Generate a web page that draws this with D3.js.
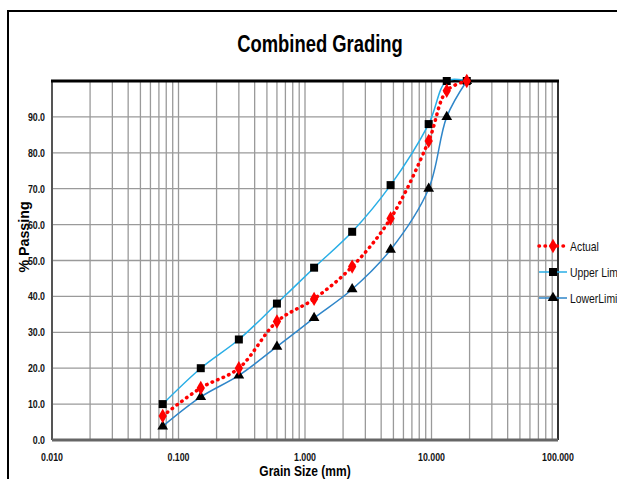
<!DOCTYPE html>
<html lang="en">
<head>
  <meta charset="UTF-8">
  <title>Combined Grading</title>
  <script src="https://d3js.org/d3.v7.min.js"></script>
  <style>
    body { margin: 0; background: #fff; }
    svg { display: block; font-family: "Liberation Sans", Arial, sans-serif; }
    .grid line { stroke: #9a9a9a; stroke-width: 1.3px; }
    .tick-label { font-size: 11px; font-weight: bold; fill: #111; }
  </style>
</head>
<body>
  <svg id="chart" width="617" height="479"></svg>
  <script>
    // sieve sizes (mm) and % passing
    const sieves = [0.075, 0.15, 0.3, 0.6, 1.18, 2.36, 4.75, 9.5, 13.2, 19];
    const actual = [6.7, 14.5, 20, 33, 39.3, 48.3, 61.7, 83.3, 97.3, 100];
    const upperLimit = [10, 20, 28, 38, 48, 58, 71, 88, 100, 100];
    const lowerLimit = [3.8, 12, 18, 26, 34, 42, 53, 70, 90, 100];
    const xTicks = [0.01, 0.1, 1, 10, 100];
    const yTicks = [0, 10, 20, 30, 40, 50, 60, 70, 80, 90];

    const svg = d3.select("#chart");
    const margin = { left: 52, right: 558, top: 81, bottom: 440 };
    const NARROW = 0.8; // arial narrow look

    const x = d3.scaleLog().domain([0.01, 100]).range([margin.left, margin.right]);
    const y = d3.scaleLinear().domain([0, 100]).range([margin.bottom, margin.top]);

    // texte condensé : on écrase horizontalement
    function narrowText(px, py, str, rot, sx = NARROW) {
      return svg.append("text")
        .attr("transform", `translate(${px},${py})` + (rot ? ` rotate(${rot})` : "") + ` scale(${sx},1)`)
        .text(str);
    }

    // outer frame (partially visible)
    svg.append("path")
      .attr("d", "M8,479 L8,11 L617,11")
      .attr("fill", "none")
      .attr("stroke", "#000")
      .attr("stroke-width", 2);

    narrowText(320, 52, "Combined Grading")
      .attr("text-anchor", "middle")
      .attr("font-size", 23).attr("font-weight", "bold");

    // grid
    const minorX = [];
    for (let e = -2; e < 2; e++) {
      for (let m = 1; m <= 9; m++) minorX.push(m * Math.pow(10, e));
    }
    const grid = svg.append("g").attr("class", "grid");
    grid.selectAll(".vx").data(minorX.filter(v => v > 0.01)).join("line")
      .attr("x1", d => x(d)).attr("x2", d => x(d))
      .attr("y1", y(0)).attr("y2", y(100));
    grid.selectAll(".hy").data(yTicks.filter(v => v > 0)).join("line")
      .attr("x1", x(0.01)).attr("x2", x(100))
      .attr("y1", d => y(d)).attr("y2", d => y(d));

    // plot borders
    svg.append("line").attr("x1", x(0.01)).attr("x2", x(0.01)).attr("y1", y(0)).attr("y2", y(100))
      .attr("stroke", "#555").attr("stroke-width", 2);
    svg.append("line").attr("x1", x(100)).attr("x2", x(100)).attr("y1", y(0)).attr("y2", y(100))
      .attr("stroke", "#333").attr("stroke-width", 2);
    svg.append("line").attr("x1", x(0.01)).attr("x2", x(100)).attr("y1", y(0)).attr("y2", y(0))
      .attr("stroke", "#666").attr("stroke-width", 3);
    svg.append("line").attr("x1", x(0.01) - 1).attr("x2", x(100) + 1).attr("y1", y(100)).attr("y2", y(100))
      .attr("stroke", "#000").attr("stroke-width", 3);

    // tick labels
    yTicks.forEach(d => {
      narrowText(45, y(d) + 4, d.toFixed(1))
        .attr("class", "tick-label")
        .attr("text-anchor", "end");
    });
    xTicks.forEach(d => {
      narrowText(x(d), 461, d3.format(",.3f")(d))
        .attr("class", "tick-label")
        .attr("text-anchor", "middle");
    });

    narrowText(305, 476, "Grain Size (mm)")
      .attr("text-anchor", "middle")
      .attr("font-size", 15).attr("font-weight", "bold");
    narrowText(29, 237, "% Passing", -90, 0.95)
      .attr("text-anchor", "middle")
      .attr("font-size", 15).attr("font-weight", "bold");

    const series = [
      { name: "Upper Limit", values: upperLimit, color: "#29aee6", width: 1.5, dash: null,
        symbol: d3.symbolSquare, size: 64, fill: "#000" },
      { name: "LowerLimit", values: lowerLimit, color: "#2f86c9", width: 1.5, dash: null,
        symbol: d3.symbolTriangle, size: 50, fill: "#000" },
      { name: "Actual", values: actual, color: "#ff0000", width: 3.5, dash: "0.5,5.5",
        symbol: d3.symbolDiamond, size: 60, fill: "#ff0000" }
    ];

    const line = d3.line()
      .x(d => x(d[0])).y(d => y(d[1]))
      .curve(d3.curveCatmullRom.alpha(0.5));

    series.forEach(s => {
      const pts = sieves.map((v, i) => [v, s.values[i]]);
      svg.append("path")
        .datum(pts)
        .attr("fill", "none")
        .attr("stroke", s.color)
        .attr("stroke-width", s.width)
        .attr("stroke-linecap", s.dash ? "round" : "butt")
        .attr("stroke-dasharray", s.dash)
        .attr("d", line);
      svg.append("g").selectAll("path").data(pts).join("path")
        .attr("transform", d => `translate(${x(d[0])},${y(d[1])})`)
        .attr("d", d3.symbol().type(s.symbol).size(s.size))
        .attr("fill", s.fill);
    });

    // legend
    const legendItems = [
      { s: series[2], y: 246 },
      { s: series[0], y: 272 },
      { s: series[1], y: 298 }
    ];
    legendItems.forEach(({ s, y: ly }) => {
      svg.append("line")
        .attr("x1", 539).attr("x2", 567).attr("y1", ly).attr("y2", ly)
        .attr("stroke", s.color).attr("stroke-width", s.width)
        .attr("stroke-linecap", s.dash ? "round" : "butt")
        .attr("stroke-dasharray", s.dash);
      svg.append("path")
        .attr("transform", `translate(553,${ly})`)
        .attr("d", d3.symbol().type(s.symbol).size(s.size))
        .attr("fill", s.fill);
      narrowText(570, ly + 4.5, s.name)
        .attr("font-size", 13).attr("fill", "#111");
    });
  </script>
</body>
</html>
